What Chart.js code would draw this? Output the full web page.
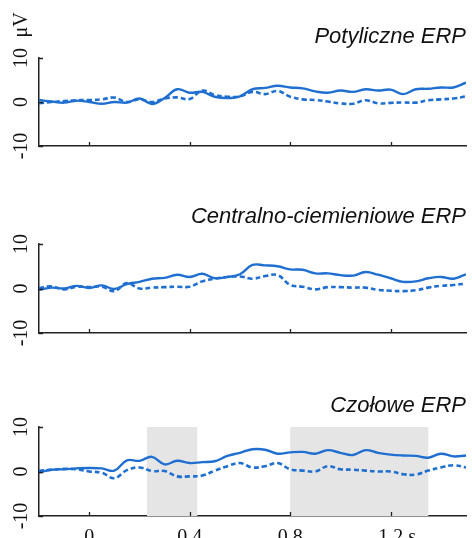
<!DOCTYPE html>
<html>
<head>
<meta charset="utf-8">
<script src="https://cdn.jsdelivr.net/npm/chart.js@4/dist/chart.umd.min.js"></script>
<style>
  html, body { margin: 0; padding: 0; background: #fff; }
  #wrap { position: relative; width: 472px; height: 538px; overflow: hidden; }
  .panel { position: absolute; left: 0; width: 472px; }
</style>
</head>
<body>
<div id="wrap">
  <div class="panel" style="top:0;height:170px"><canvas id="occipital"></canvas></div>
  <div class="panel" style="top:170px;height:185px"><canvas id="centroParietal"></canvas></div>
  <div class="panel" style="top:355px;height:183px"><canvas id="frontal"></canvas></div>
</div>
<script>
// time axis (s), every 50 ms
const timeSec = [-0.2, -0.15, -0.1, -0.05, 0, 0.05, 0.1, 0.15, 0.2, 0.25, 0.3, 0.35, 0.4, 0.45,
  0.5, 0.55, 0.6, 0.65, 0.7, 0.75, 0.8, 0.85, 0.9, 0.95, 1.0, 1.05, 1.1, 1.15, 1.2, 1.25,
  1.3, 1.35, 1.4, 1.45, 1.5];

// amplitudes in μV (solid / dashed condition)
const occipitalSolid = [0.45, 0.1, -0.15, 0.3, 0.0, -0.4, 0.0, -0.15, 0.8, -0.45, 0.9, 2.9, 2.1, 2.3,
  1.2, 0.9, 1.3, 2.9, 3.2, 3.7, 3.3, 3.1, 2.4, 2.1, 2.6, 2.3, 2.9, 2.6, 2.8, 1.8,
  2.9, 3.0, 3.3, 3.3, 4.4];
const occipitalDashed = [-0.3, 0.0, 0.2, 0.4, 0.45, 0.6, 1.0, 0.0, 0.6, 0.0, 0.8, 1.05, 0.7, 2.6,
  1.6, 1.2, 1.3, 2.3, 1.8, 2.5, 1.2, 0.6, 0.45, 0.1, -0.3, -0.4, 0.4, -0.3, -0.2, -0.1,
  -0.15, 0.4, 0.6, 0.8, 1.3];

const centralSolid = [-0.3, 0.2, 0.0, 0.6, 0.1, 0.7, -0.1, 1.0, 1.5, 2.2, 2.4, 3.1, 2.6, 3.3,
  2.3, 2.6, 3.2, 5.3, 5.2, 5.0, 4.3, 4.2, 3.4, 3.4, 3.0, 2.9, 3.7, 3.1, 2.3, 1.5,
  1.6, 2.3, 2.6, 2.2, 3.2];
const centralDashed = [0.1, 0.5, -0.2, 0.4, 0.3, 0.4, -0.6, 1.2, 0.0, 0.2, 0.3, 0.4, 0.4, 1.6,
  2.2, 2.6, 2.7, 2.2, 2.8, 3.0, 0.8, 0.4, -0.2, 0.3, 0.3, 0.2, 0.2, -0.3, -0.5, -0.6,
  -0.4, 0.2, 0.6, 0.8, 1.1];

const frontalSolid = [-0.2, 0.4, 0.5, 0.7, 0.8, 0.7, 0.2, 2.5, 2.4, 3.3, 1.6, 2.4, 1.9, 2.1,
  2.3, 3.5, 4.2, 5.0, 4.9, 4.0, 4.3, 4.4, 4.0, 4.8, 4.2, 3.7, 4.8, 4.2, 3.8, 3.6,
  3.5, 3.1, 4.0, 3.4, 3.6];
const frontalDashed = [0.15, 0.4, 0.6, 0.5, 0.0, -0.3, -1.5, 0.3, 0.9, 0.1, 0.1, -1.1, -1.1, -0.9,
  0.2, 1.2, 1.9, 0.9, 1.2, 1.9, 0.5, 0.2, 0.0, 1.2, 0.5, 0.4, 0.2, 0.0, 0.0, -0.6,
  -0.7, 0.2, 0.9, 1.4, 0.9];

// grey analysis windows on the frontal panel (s)
const frontalWindows = [[0.23, 0.43], [0.8, 1.35]];

const xTickValues = [0, 0.4, 0.8, 1.2];
const xTickLabels = ['0', '0.4', '0.8', '1.2'];
const yTickValues = [-10, 0, 10];
const yTickLabels = ['-10', '0', '10'];

const lineBlue = '#1f6fd1';
const axisColor = '#222';

const toPoints = (vals) => vals.map((v, i) => ({ x: timeSec[i], y: v }));

// titles, rotated y labels, inward ticks, shaded windows
const erpDecor = {
  id: 'erpDecor',
  beforeDatasetsDraw(chart, args, opts) {
    const { ctx, chartArea, scales: { x } } = chart;
    ctx.save();
    ctx.fillStyle = '#e5e5e5';
    (opts.windows || []).forEach(([a, b]) => {
      const x0 = x.getPixelForValue(a);
      const x1 = x.getPixelForValue(b);
      ctx.fillRect(x0, chartArea.top, x1 - x0, chartArea.bottom - chartArea.top);
    });
    ctx.restore();
  },
  afterDraw(chart, args, opts) {
    const { ctx, chartArea, scales: { x, y } } = chart;
    ctx.save();

    // inward tick marks
    ctx.strokeStyle = axisColor;
    ctx.lineWidth = 1.3;
    ctx.beginPath();
    xTickValues.forEach(v => {
      const px = Math.round(x.getPixelForValue(v)) + 0.5;
      ctx.moveTo(px, chartArea.bottom);
      ctx.lineTo(px, chartArea.bottom - 4);
    });
    yTickValues.forEach(v => {
      const py = Math.round(y.getPixelForValue(v)) + 0.5;
      ctx.moveTo(chartArea.left, py);
      ctx.lineTo(chartArea.left + 4, py);
    });
    ctx.stroke();

    // rotated y tick labels
    ctx.fillStyle = '#111';
    ctx.font = '20px "Liberation Serif", "DejaVu Serif", serif';
    ctx.textAlign = 'center';
    ctx.textBaseline = 'alphabetic';
    yTickValues.forEach((v, i) => {
      ctx.save();
      ctx.translate(27, y.getPixelForValue(v));
      ctx.rotate(-Math.PI / 2);
      ctx.fillText(yTickLabels[i], 0, 0);
      ctx.restore();
    });
    if (opts.unit) {
      ctx.save();
      ctx.translate(27, 25);
      ctx.rotate(-Math.PI / 2);
      ctx.fillText(opts.unit, 0, 0);
      ctx.restore();
    }

    // x tick labels (bottom panel only)
    if (opts.xLabels) {
      xTickValues.forEach((v, i) => {
        const px = x.getPixelForValue(v);
        ctx.textAlign = 'center';
        ctx.fillText(xTickLabels[i], px, chartArea.bottom + 27);
        if (i === xTickValues.length - 1) {
          const w = ctx.measureText(xTickLabels[i]).width;
          ctx.textAlign = 'left';
          ctx.fillText(' s', px + w / 2, chartArea.bottom + 27);
        }
      });
    }

    // panel title
    ctx.font = 'italic 22px "Liberation Sans", Arial, sans-serif';
    ctx.textAlign = 'right';
    ctx.fillText(opts.title, 466, opts.titleY);
    ctx.restore();
  }
};

function makePanel(id, solid, dashed, pad, decor) {
  return new Chart(document.getElementById(id), {
    type: 'line',
    data: {
      datasets: [
        { data: toPoints(solid), borderColor: lineBlue, borderWidth: 2.4, pointRadius: 0, tension: 0.4 },
        { data: toPoints(dashed), borderColor: lineBlue, borderWidth: 2.6, borderDash: [5, 3], pointRadius: 0, tension: 0.4 }
      ]
    },
    options: {
      responsive: true,
      maintainAspectRatio: false,
      animation: false,
      layout: { padding: pad },
      scales: {
        x: {
          type: 'linear', min: -0.2, max: 1.5,
          grid: { display: false, drawTicks: false },
          border: { display: true, color: axisColor, width: 1.5 },
          ticks: { display: false }
        },
        y: {
          min: -10, max: 10,
          grid: { display: false, drawTicks: false },
          border: { display: true, color: axisColor, width: 1.5 },
          ticks: { display: false }
        }
      },
      plugins: {
        legend: { display: false },
        tooltip: { enabled: false },
        erpDecor: decor
      }
    },
    plugins: [erpDecor]
  });
}

makePanel('occipital', occipitalSolid, occipitalDashed,
  { left: 39, right: 6, top: 58, bottom: 24 },
  { title: 'Potyliczne ERP', titleY: 43, unit: 'μV' });

makePanel('centroParietal', centralSolid, centralDashed,
  { left: 39, right: 6, top: 74, bottom: 22 },
  { title: 'Centralno-ciemieniowe ERP', titleY: 53 });

makePanel('frontal', frontalSolid, frontalDashed,
  { left: 39, right: 6, top: 72, bottom: 22 },
  { title: 'Czołowe ERP', titleY: 57, xLabels: true, windows: frontalWindows });
</script>
</body>
</html>
